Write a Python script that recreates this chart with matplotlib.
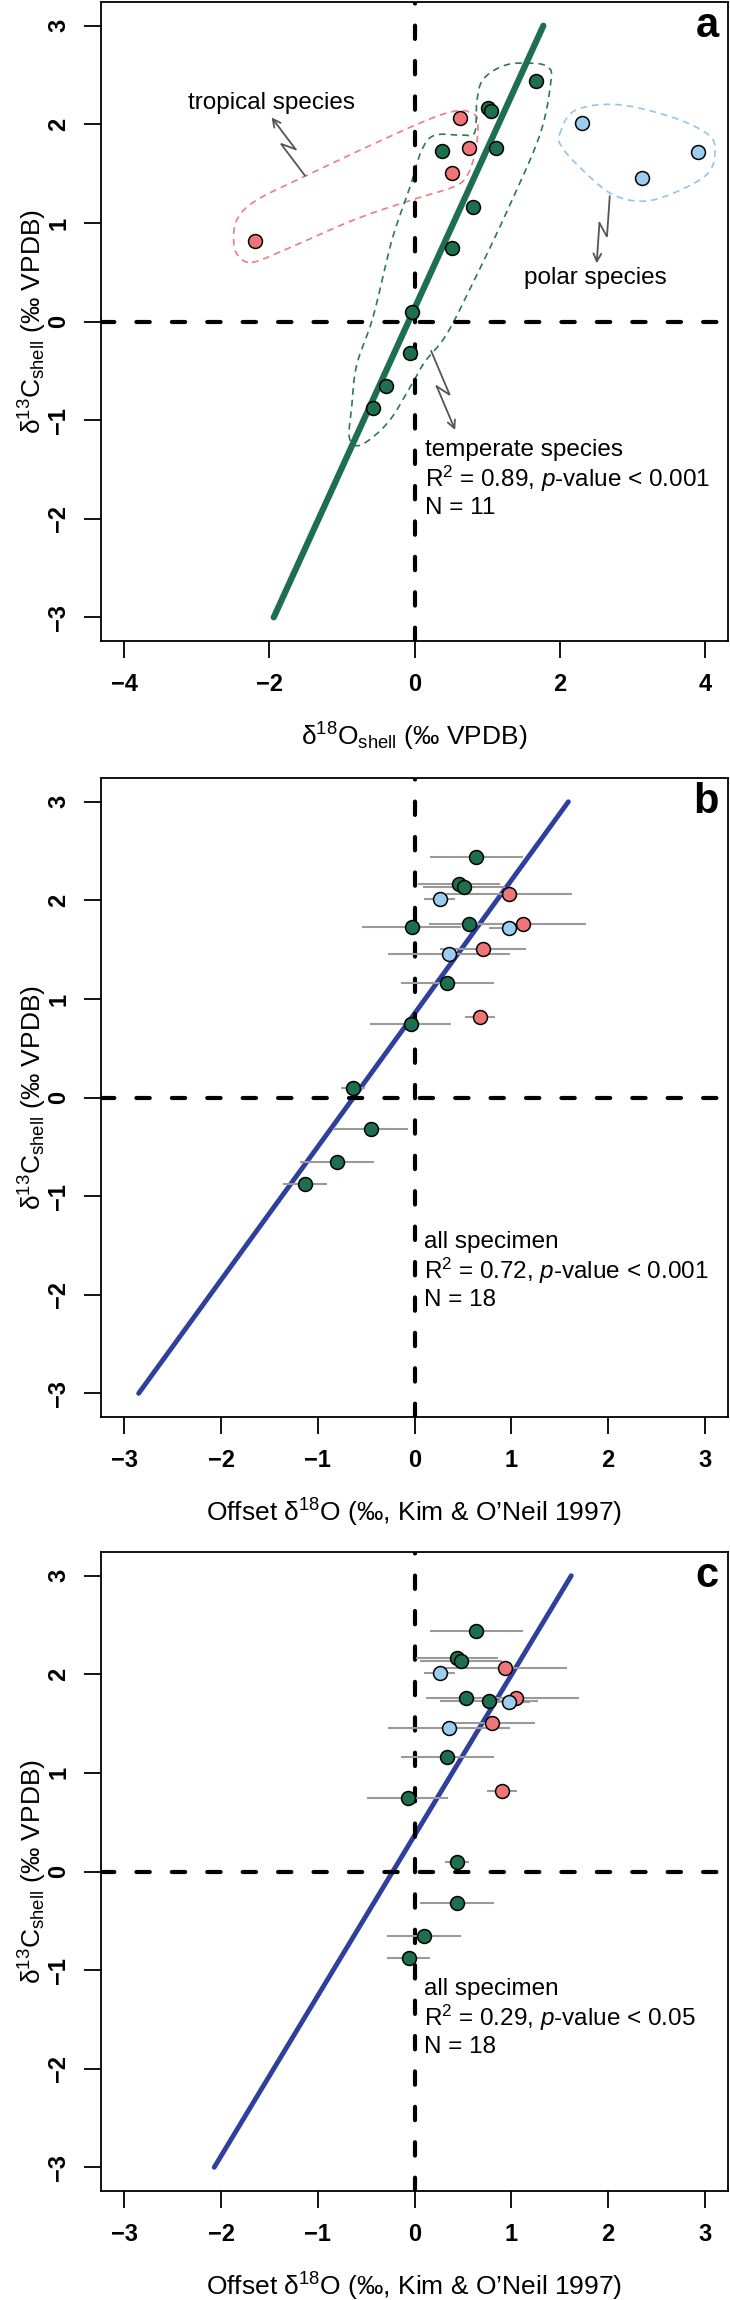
import numpy as np
import matplotlib
matplotlib.use('Agg')
import matplotlib.pyplot as plt

plt.rcParams['font.family'] = ['Liberation Sans', 'DejaVu Sans']
plt.rcParams['mathtext.fontset'] = 'custom'
plt.rcParams['mathtext.rm'] = 'Liberation Sans'
plt.rcParams['mathtext.it'] = 'Liberation Sans:italic'
plt.rcParams['mathtext.bf'] = 'Liberation Sans:bold'

GREEN = '#1d6f4f'
RED = '#f07579'
BLUE = '#9bcdee'
LINE_BLUE = '#2e3f9c'
ERR_GREY = '#9a9a9a'

# tropical species
trop_d13c = [2.06, 1.76, 1.51, 0.82]
trop_d18o = [0.62, 0.75, 0.51, -2.20]
trop_off_b = [0.98, 1.12, 0.71, 0.68]
trop_off_c = [0.93, 1.05, 0.80, 0.90]
trop_err = [0.65, 0.65, 0.445, 0.155]

# temperate species
temp_d13c = [2.44, 2.17, 2.14, 1.73, 1.76, 1.16, 0.75, 0.10, -0.32, -0.655, -0.88]
temp_d18o = [1.68, 1.01, 1.06, 0.38, 1.12, 0.80, 0.51, -0.03, -0.06, -0.40, -0.57]
temp_off_b = [0.64, 0.46, 0.51, -0.03, 0.56, 0.34, -0.04, -0.64, -0.455, -0.80, -1.13]
temp_off_c = [0.64, 0.44, 0.48, 0.77, 0.53, 0.34, -0.07, 0.44, 0.44, 0.10, -0.06]
temp_err = [0.48, 0.42, 0.42, 0.51, 0.41, 0.48, 0.42, 0.125, 0.385, 0.385, 0.225]

# polar species
polar_d13c = [2.01, 1.72, 1.46]
polar_d18o = [2.31, 3.91, 3.13]
polar_off_b = [0.26, 0.98, 0.36]
polar_off_c = [0.26, 0.98, 0.36]
polar_err = [0.16, 0.21, 0.63]

# regression fits (slope, intercept), drawn over y = -3..3
fit_a = (1.615, 0.133)
fit_b = (1.351, 0.852)
fit_c = (1.626, 0.366)

stats_a = ['temperate species', r'R$^2$ = 0.89, $\mathit{p}$-value < 0.001', 'N = 11']
stats_b = ['all specimen', r'R$^2$ = 0.72, $\mathit{p}$-value < 0.001', 'N = 18']
stats_c = ['all specimen', r'R$^2$ = 0.29, $\mathit{p}$-value < 0.05', 'N = 18']

# outlines of the species groups in panel a
hull_trop_x = [-2.24, -1.81, -0.84, -0.01, 0.55, 0.74, 0.85, 0.87, 0.79, 0.61, 0.23, -0.57, -1.49, -2.18, -2.45, -2.49, -2.42]
hull_trop_y = [0.60, 0.72, 1.03, 1.24, 1.37, 1.50, 1.77, 2.04, 2.11, 2.14, 2.06, 1.80, 1.48, 1.23, 1.03, 0.79, 0.66]
hull_temp_x = [-0.57, -0.31, -0.06, 0.10, 0.28, 0.66, 0.83, 0.86, 0.95, 1.25, 1.62, 1.84, 1.88, 1.73, 1.30, 0.87,
               0.45, 0.15, -0.01, -0.31, -0.57, -0.79, -0.90, -0.87, -0.80]
hull_temp_y = [0.05, 0.83, 1.37, 1.74, 1.89, 1.89, 1.92, 2.24, 2.46, 2.60, 2.62, 2.58, 2.44, 1.90, 1.16, 0.49,
               -0.12, -0.40, -0.60, -0.97, -1.17, -1.26, -1.17, -0.90, -0.45]
hull_polar_x = [2.00, 2.21, 2.80, 3.56, 4.04, 4.14, 4.04, 3.56, 3.13, 2.70, 2.27, 2.03]
hull_polar_y = [1.90, 2.14, 2.20, 2.07, 1.90, 1.74, 1.50, 1.30, 1.22, 1.30, 1.57, 1.77]


def smooth_closed(px, py, n=16):
    pts = np.column_stack([px, py])
    m = len(pts)
    t = np.linspace(0, 1, n, endpoint=False)[:, None]
    out = []
    for i in range(m):
        p0, p1, p2, p3 = pts[i - 1], pts[i], pts[(i + 1) % m], pts[(i + 2) % m]
        out.append(0.5 * (2 * p1 + (-p0 + p2) * t + (2 * p0 - 5 * p1 + 4 * p2 - p3) * t ** 2
                          + (-p0 + 3 * p1 - 3 * p2 + p3) * t ** 3))
    out = np.vstack(out + [out[0][:1]])
    return out[:, 0], out[:, 1]


def zigzag_arrow(ax, start, end, color='#555555'):
    p0 = ax.transData.transform(start)
    p1 = ax.transData.transform(end)
    d = p1 - p0
    L = np.hypot(*d)
    u = d / L
    nrm = np.array([-u[1], u[0]])
    a = p0 + u * (L / 2 + 6) + nrm * 5
    b = p0 + u * (L / 2 - 6) - nrm * 5
    inv = ax.transData.inverted()
    path = inv.transform(np.array([p0, a, b]))
    ax.plot(path[:, 0], path[:, 1], color=color, lw=1.3, solid_joinstyle='miter')
    ax.annotate('', xy=end, xytext=tuple(path[-1]),
                arrowprops=dict(arrowstyle='->', color=color, lw=1.3, shrinkA=0, shrinkB=0,
                                mutation_scale=14))


def setup_axes(ax, xticks, xlabel, letter):
    lim = xticks[-1] * 1.08
    ax.set_xlim(-lim, lim)
    ax.set_ylim(-3.24, 3.24)
    ax.set_xticks(xticks)
    ax.set_yticks(range(-3, 4))
    ax.tick_params(direction='out', length=12, width=1.3, labelsize=17, pad=11)
    ax.tick_params(axis='y', labelrotation=90, pad=10)
    for lab in ax.get_xticklabels() + ax.get_yticklabels():
        lab.set_fontweight('bold')
    for lab in ax.get_yticklabels():
        lab.set_verticalalignment('center')
    for s in ax.spines.values():
        s.set_linewidth(1.3)
    ax.set_xlabel(xlabel, fontsize=19)
    ax.xaxis.set_label_coords(0.5, -0.150)
    ax.xaxis.label.set_verticalalignment('center')
    ax.set_ylabel(r'δ$^{13}$C$_{\mathrm{shell}}$ (‰ VPDB)', fontsize=19)
    ax.yaxis.set_label_coords(-0.108, 0.5)
    ax.yaxis.label.set_verticalalignment('center')
    ax.text(0.985, 0.945, letter, transform=ax.transAxes, ha='right', va='baseline',
            fontsize=30, fontweight='bold')
    ax.axhline(0, color='black', lw=3, dashes=(3.2, 5.3), dash_capstyle='round', zorder=3)
    ax.axvline(0, color='black', lw=3, dashes=(3.2, 5.3), dash_capstyle='round', zorder=3)


def fit_line(ax, fit, color, lw):
    slope, icpt = fit
    yy = np.array([-3.0, 3.0])
    ax.plot((yy - icpt) / slope, yy, color=color, lw=lw, solid_capstyle='round', zorder=2)


def stats_text(ax, x, y0, lines, step=0.295):
    for i, s in enumerate(lines):
        ax.text(x, y0 - i * step, s, fontsize=17.5, ha='left', va='center', zorder=5)


def points(ax, x, y, color):
    ax.plot(x, y, 'o', ms=10, mfc=color, mec='black', mew=1.1, zorder=6)


fig = plt.figure(figsize=(7.3, 23), dpi=100)
ax_a = fig.add_axes([0.1384, 0.7213, 0.8589, 0.2778])
ax_b = fig.add_axes([0.1384, 0.3839, 0.8589, 0.2778])
ax_c = fig.add_axes([0.1384, 0.0474, 0.8589, 0.2778])

# panel a
setup_axes(ax_a, [-4, -2, 0, 2, 4], r'δ$^{18}$O$_{\mathrm{shell}}$ (‰ VPDB)', 'a')
for hx, hy, col in [(hull_trop_x, hull_trop_y, '#f27b7d'),
                    (hull_temp_x, hull_temp_y, '#2a7a56'),
                    (hull_polar_x, hull_polar_y, '#8ec7ec')]:
    sx, sy = smooth_closed(hx, hy)
    ax_a.plot(sx, sy, color=col, lw=1.2, dashes=(4, 3), zorder=1)
fit_line(ax_a, fit_a, GREEN, 4.5)
points(ax_a, temp_d18o, temp_d13c, GREEN)
points(ax_a, trop_d18o, trop_d13c, RED)
points(ax_a, polar_d18o, polar_d13c, BLUE)
zigzag_arrow(ax_a, (-1.51, 1.48), (-1.97, 2.07))
zigzag_arrow(ax_a, (2.69, 1.27), (2.51, 0.59))
zigzag_arrow(ax_a, (0.23, -0.30), (0.56, -1.10))
ax_a.text(-1.97, 2.22, 'tropical species', fontsize=17.5, ha='center', va='center')
ax_a.text(2.49, 0.44, 'polar species', fontsize=17.5, ha='center', va='center')
stats_text(ax_a, 0.14, -1.30, stats_a)

# panels b and c
offset_label = r'Offset δ$^{18}$O (‰, Kim & O’Neil 1997)'
for ax, fit, tx, ty, stats, letter in [
        (ax_b, fit_b, (temp_off_b, trop_off_b, polar_off_b), -1.46, stats_b, 'b'),
        (ax_c, fit_c, (temp_off_c, trop_off_c, polar_off_c), -1.19, stats_c, 'c')]:
    setup_axes(ax, [-3, -2, -1, 0, 1, 2, 3], offset_label, letter)
    fit_line(ax, fit, LINE_BLUE, 3.5)
    for xs, ys, err, col in [(tx[0], temp_d13c, temp_err, GREEN),
                             (tx[1], trop_d13c, trop_err, RED),
                             (tx[2], polar_d13c, polar_err, BLUE)]:
        ax.errorbar(xs, ys, xerr=err, fmt='none', ecolor=ERR_GREY, elinewidth=1.5, capsize=0, zorder=4)
    points(ax, tx[0], temp_d13c, GREEN)
    points(ax, tx[1], trop_d13c, RED)
    points(ax, tx[2], polar_d13c, BLUE)
    stats_text(ax, 0.1, ty, stats)

fig.savefig('out.png', dpi=100)
